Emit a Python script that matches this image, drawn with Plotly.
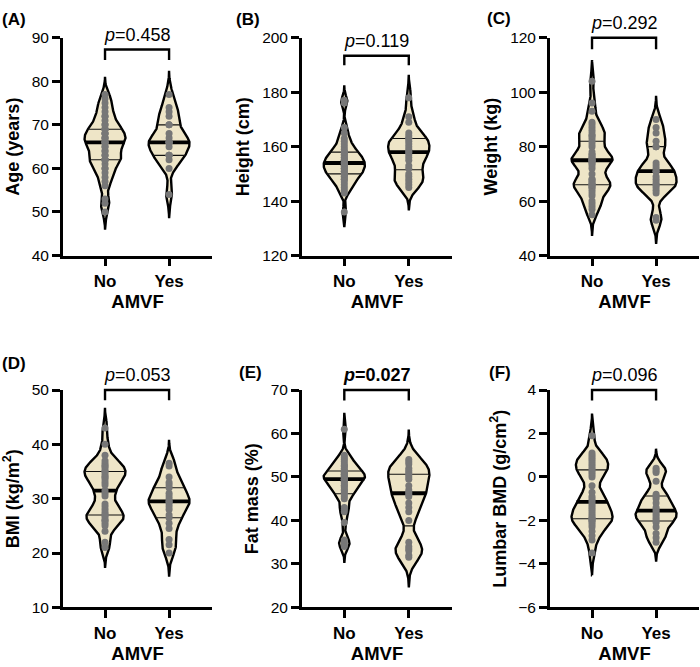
import numpy as np
import plotly.graph_objects as go

W, H = 700, 667
groups = ["No", "Yes"]

# ---- data (individual points) ----
age_no = [50, 52, 53, 56, 57, 58, 59, 60, 60, 61, 62, 62, 62, 62, 63, 63, 64, 64, 65, 65, 66, 66, 66, 66,
          67, 67, 67, 68, 68, 68, 69, 69, 69, 70, 70, 71, 72, 72, 73, 74, 75, 76, 77]
age_yes = [54, 60, 62, 63, 63, 63, 65, 66, 66, 66, 66, 67, 68, 70, 70, 72, 73, 74, 77]
height_no = [136, 143, 144, 145, 146, 147, 148, 148, 149, 149, 150, 150, 150, 151, 151, 152, 152, 152, 153, 153,
             153, 154, 154, 154, 155, 155, 155, 156, 156, 157, 157, 158, 158, 158, 159, 160, 161, 162, 163, 165,
             167, 176, 177]
height_yes = [145, 146, 147, 148, 149, 150, 152, 153, 155, 156, 157, 158, 158, 159, 160, 161, 162, 163, 163, 164,
              165, 169, 171, 178]
weight_no = [55, 57, 58, 59, 60, 62, 63, 64, 65, 65, 66, 66, 66, 67, 67, 68, 68, 70, 72, 73, 74, 74, 75, 75, 75,
             75, 76, 76, 77, 77, 78, 80, 81, 82, 83, 84, 84, 85, 86, 87, 88, 89, 93, 96, 104]
weight_yes = [53, 54, 63, 64, 65, 66, 66, 67, 68, 69, 71, 71, 72, 73, 74, 80, 80, 82, 85, 87, 90]
bmi_no = [21, 22, 24, 25, 25.5, 26, 26, 26.5, 27, 27, 27.5, 28, 28.5, 29, 30.5, 31, 31.5, 32.5, 33, 33.5, 34,
          34, 34.5, 35, 35, 35.5, 36, 36, 36.5, 37, 38, 40, 43]
bmi_yes = [20, 21.5, 22.5, 24.5, 25.5, 26.5, 27, 28, 28.5, 29, 29.5, 29.5, 30, 30.5, 31, 32, 32.5, 33, 34, 36, 36.5]
fat_no = [34, 34.5, 35, 35.5, 39.5, 42, 42.5, 43, 45, 45.5, 46, 46.5, 47, 47, 47.5, 48, 48, 48.5, 49, 49, 49.5,
          49.5, 49.5, 50, 50, 50, 50.5, 50.5, 50.5, 51, 51, 51.5, 51.5, 52, 52.5, 52.5, 53, 53.5, 54, 54.5, 55, 61]
fat_yes = [31.5, 32, 33, 33.5, 34, 35, 40, 42, 43, 44, 45.5, 46, 46.5, 47, 48, 49.5, 50, 50.5, 51, 51.5, 52, 53,
           53.5, 54]
bmd_no = [-3.5, -2.9, -2.7, -2.5, -2.3, -2.2, -2.1, -2.0, -2.0, -1.9, -1.9, -1.8, -1.7, -1.6, -1.5, -1.4, -1.3,
          -1.2, -1.1, -1.0, -0.9, -0.7, -0.4, 0.0, 0.1, 0.2, 0.3, 0.4, 0.5, 0.6, 0.7, 0.8, 0.9, 1.0, 1.1, 1.9]
bmd_yes = [-3.0, -2.8, -2.6, -2.3, -2.1, -2.0, -1.9, -1.8, -1.7, -1.6, -1.5, -1.4, -1.2, -1.0, -0.9, -0.8, -0.2,
           0.2, 0.3, 0.4]

panel_labels = ["(A)", "(B)", "(C)", "(D)", "(E)", "(F)"]
y_titles = ["Age (years)", "Height (cm)", "Weight (kg)", "BMI (kg/m<sup>2</sup>)", "Fat mass (%)",
            "Lumbar BMD (g/cm<sup>2</sup>)"]
x_title = "AMVF"
p_values = ["0.458", "0.119", "0.292", "0.053", "0.027", "0.096"]
p_bold = [False, False, False, False, True, False]
y_ranges = [(40, 90), (120, 200), (40, 120), (10, 50), (20, 70), (-6, 4)]
y_dticks = [10, 20, 20, 10, 10, 2]
series = [(age_no, age_yes), (height_no, height_yes), (weight_no, weight_yes),
          (bmi_no, bmi_yes), (fat_no, fat_yes), (bmd_no, bmd_yes)]

# ---- styling / layout parameters ----
bandwidths = [(1.35, 1.8), (1.85, 2.8), (2.6, 2.9), (1.25, 1.45), (1.25, 2.3), (0.34, 0.3)]
bracket_levels = [(87.3, 84.9), (193.4, 189.9), (120, 115.8), (50, 48.1), (70, 67.6), (4, 3.52)]
boxes = [(63, 212, 29.5, 253), (302, 452, 29.5, 253), (550, 699, 29.5, 253),
         (63, 212, 391, 614), (302, 452, 391, 614), (550, 699, 391, 614)]
label_pos = [(0, 11), (234, 11), (485, 10), (0, 364), (237, 373), (487, 373)]
XR = (-0.656, 1.67)
HALF = 0.32
FILL = "#EEE5C7"
DOT = "#777777"
FONT = "Liberation Sans, Arial, sans-serif"


def to_paper(i, x, y):
    l, r, t, b = boxes[i]
    y0, y1 = y_ranges[i]
    px = l + (x - XR[0]) / (XR[1] - XR[0]) * (r - l)
    py = b - (y - y0) / (y1 - y0) * (b - t)
    return px / W, 1 - py / H


def kde(data, bw, grid):
    d = np.asarray(data, dtype=float)
    z = (grid[:, None] - d[None, :]) / bw
    return np.exp(-0.5 * z ** 2).sum(axis=1)


fig = go.Figure()
annotations = []
shapes = []

for i in range(6):
    xa = "x" if i == 0 else f"x{i+1}"
    ya = "y" if i == 0 else f"y{i+1}"
    for g, vals in enumerate(series[i]):
        bw = bandwidths[i][g]
        v = np.asarray(vals, dtype=float)
        grid = np.linspace(v.min() - 3 * bw, v.max() + 3 * bw, 400)
        dens = kde(v, bw, grid)
        scale = HALF / dens.max()
        half = dens * scale
        xs = np.concatenate([g + half, (g - half)[::-1], [g + half[0]]])
        ys = np.concatenate([grid, grid[::-1], [grid[0]]])
        fig.add_trace(go.Scatter(x=xs, y=ys, mode="lines", fill="toself", fillcolor=FILL,
                                 line=dict(color="black", width=2.4), xaxis=xa, yaxis=ya,
                                 hoverinfo="skip", showlegend=False))
        q1, med, q3 = np.percentile(v, [25, 50, 75])
        for q, lw in ((q1, 1.1), (q3, 1.1), (med, 3.8)):
            w = kde(v, bw, np.array([q]))[0] * scale
            fig.add_trace(go.Scatter(x=[g - w, g + w], y=[q, q], mode="lines",
                                     line=dict(color="#111111" if lw < 2 else "black", width=lw),
                                     xaxis=xa, yaxis=ya, hoverinfo="skip", showlegend=False))
        fig.add_trace(go.Scatter(x=[g] * len(v), y=v, mode="markers",
                                 marker=dict(color=DOT, size=7, line=dict(width=0)),
                                 xaxis=xa, yaxis=ya, showlegend=False, name=groups[g]))

    l, r, t, b = boxes[i]
    y0, y1 = y_ranges[i]
    fig.layout[f"xaxis{'' if i == 0 else i+1}"] = dict(
        domain=[l / W, r / W], anchor=ya, range=list(XR), tickvals=[0, 1], ticktext=groups,
        showline=True, linecolor="black", linewidth=2.8, ticks="outside", ticklen=8, tickwidth=2.8,
        tickcolor="black", showgrid=False, zeroline=False,
        tickfont=dict(family=FONT, size=17, color="black", weight="bold"),
        title=dict(text=x_title, font=dict(family=FONT, size=18.5, color="black", weight="bold"), standoff=5),
    )
    fig.layout[f"yaxis{'' if i == 0 else i+1}"] = dict(
        domain=[1 - b / H, 1 - t / H], anchor=xa, range=[y0, y1], dtick=y_dticks[i], tick0=y0,
        showline=True, linecolor="black", linewidth=2.8, ticks="outside", ticklen=8, tickwidth=2.8,
        tickcolor="black", showgrid=False, zeroline=False,
        tickfont=dict(family=FONT, size=15.5, color="black"),
        title=dict(text=y_titles[i], font=dict(family=FONT, size=18, color="black", weight="bold"),
                   standoff=8),
    )

    # significance bracket
    top, tip = bracket_levels[i]
    xa0, yt = to_paper(i, 0, top)
    xa1, _ = to_paper(i, 1, top)
    _, yp = to_paper(i, 0, tip)
    shapes.append(dict(type="path", xref="paper", yref="paper",
                       path=f"M {xa0},{yp} L {xa0},{yt} L {xa1},{yt} L {xa1},{yp}",
                       line=dict(color="black", width=2.4)))
    ptxt = f"<i>p</i>={p_values[i]}"
    if p_bold[i]:
        ptxt = f"<b>{ptxt}</b>"
    annotations.append(dict(x=(xa0 + xa1) / 2, y=yt + 15 / H, xref="paper", yref="paper", text=ptxt,
                            showarrow=False, xanchor="center", yanchor="middle",
                            font=dict(family=FONT, size=18, color="black")))
    lx, ly = label_pos[i]
    annotations.append(dict(x=lx / W, y=1 - ly / H, xref="paper", yref="paper",
                            text=f"<b>{panel_labels[i]}</b>", showarrow=False,
                            xanchor="left", yanchor="middle",
                            font=dict(family=FONT, size=17, color="black")))

fig.update_layout(width=W, height=H, margin=dict(l=0, r=0, t=0, b=0),
                  paper_bgcolor="white", plot_bgcolor="white",
                  showlegend=False, annotations=annotations, shapes=shapes)

fig.write_html("out.html")
